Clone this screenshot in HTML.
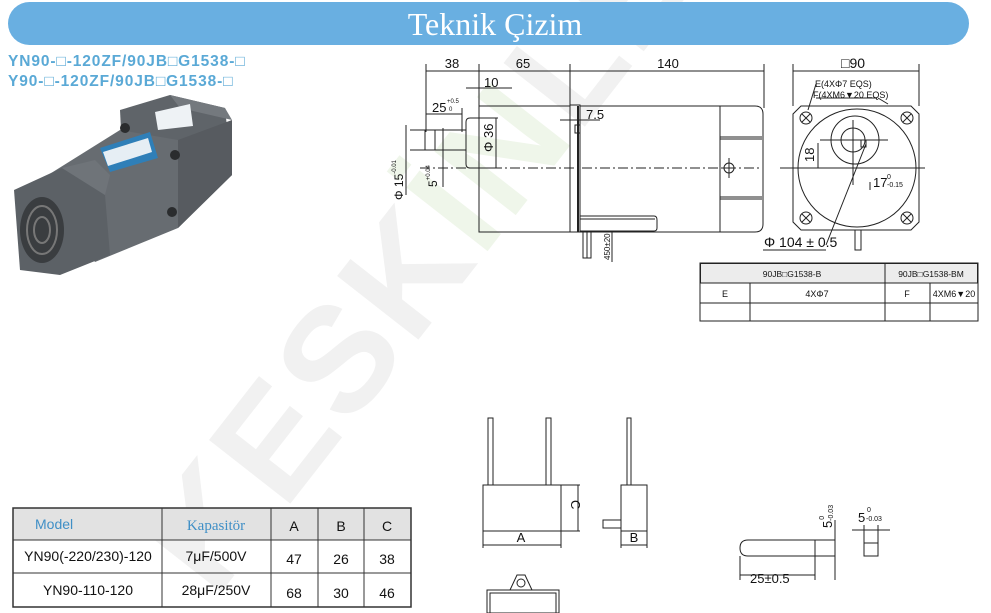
<!DOCTYPE html>
<html><head><meta charset="utf-8"><style>
html,body{margin:0;padding:0;background:#fff;width:991px;height:613px;overflow:hidden}
svg{display:block;font-family:"Liberation Sans",Arial,sans-serif}
</style></head><body>
<svg width="991" height="613" viewBox="0 0 991 613" xmlns="http://www.w3.org/2000/svg">
<!-- watermark -->
<text x="0" y="0" transform="translate(215,600) rotate(-52)" font-size="150" font-weight="bold" fill="#f1f1f1" letter-spacing="4">KESK<tspan fill="#eff6ea">İN</tspan>LER</text>

<!-- header -->
<rect x="8" y="2" width="961" height="43" rx="21.5" fill="#69afe1"/>
<text x="495" y="35" text-anchor="middle" font-family="Liberation Serif,serif" font-size="32" fill="#fff">Teknik Çizim</text>
<text x="8" y="66" font-size="15.5" font-weight="bold" fill="#5aa9d6" letter-spacing="0.9">YN90-□-120ZF/90JB□G1538-□</text>
<text x="8" y="86" font-size="15.5" font-weight="bold" fill="#5aa9d6" letter-spacing="0.9">Y90-□-120ZF/90JB□G1538-□</text>

<!-- motor photo -->
<g>
<polygon points="120,110 170,95 225,108 232,175 178,228 125,210" fill="#5f6469"/>
<polygon points="170,95 225,108 232,120 180,108" fill="#74797e"/>
<polygon points="178,140 232,120 232,175 178,228" fill="#575b60"/>
<polygon points="40,180 120,130 178,140 178,228 95,262" fill="#676c71"/>
<polygon points="14,190 62,168 105,195 110,255 60,275 20,270" fill="#5c6166"/>
<polygon points="62,168 95,160 110,175 105,195" fill="#6f7479"/>
<ellipse cx="42" cy="230" rx="22" ry="33" fill="#3a3d40"/>
<ellipse cx="42" cy="230" rx="15" ry="24" fill="none" stroke="#777" stroke-width="2"/>
<ellipse cx="42" cy="230" rx="8" ry="13" fill="none" stroke="#777" stroke-width="2"/>
<polygon points="100,148 150,132 158,158 110,172" fill="#2f7fb8"/>
<polygon points="103,152 148,138 152,152 108,166" fill="#e6eef4"/>
<polygon points="155,112 190,104 193,126 158,130" fill="#eef2f5"/>
<circle cx="125" cy="128" r="5" fill="#2a2c2e"/><circle cx="175" cy="155" r="5" fill="#2a2c2e"/><circle cx="172" cy="212" r="5" fill="#2a2c2e"/>
</g>

<g stroke="#222" stroke-width="1" fill="none">
<line x1="426" y1="71" x2="764" y2="71"/>
<line x1="426" y1="64" x2="426" y2="132"/><line x1="479" y1="64" x2="479" y2="106"/><line x1="570" y1="64" x2="570" y2="106"/><line x1="764" y1="64" x2="764" y2="108"/>
<line x1="466" y1="88" x2="512" y2="88"/>
<line x1="426" y1="114" x2="462" y2="114"/><line x1="462" y1="108" x2="462" y2="132"/>
<line x1="560" y1="120" x2="600" y2="120"/>
<rect x="425" y="130" width="41" height="20"/>
<line x1="435" y1="130" x2="435" y2="150"/>
<line x1="410" y1="130" x2="425" y2="130"/><line x1="410" y1="150" x2="425" y2="150"/><line x1="406" y1="125" x2="406" y2="195"/>
<line x1="443" y1="128" x2="443" y2="187"/>
<path d="M479,118 H470 Q466,118 466,122 V164 Q466,168 470,168 H479"/>
<line x1="479" y1="118" x2="498" y2="118"/><line x1="479" y1="168" x2="498" y2="168"/><line x1="496" y1="118" x2="496" y2="168"/>
<rect x="479" y="106" width="91" height="126"/>
<rect x="570" y="105" width="10" height="127"/>
<line x1="578" y1="106" x2="578" y2="232" stroke-width="2"/>
<rect x="575" y="125" width="5" height="8"/>
<path d="M580,106 H755 Q763,106 763,114 V224 Q763,232 755,232 H580"/>
<line x1="720" y1="106" x2="720" y2="232"/>
<line x1="720" y1="137" x2="762" y2="137"/><line x1="720" y1="139" x2="762" y2="139"/>
<line x1="720" y1="197" x2="762" y2="197"/><line x1="720" y1="199" x2="762" y2="199"/>
<path d="M580,216 H654 Q657,216 657,220 V228 Q657,231 654,231 H580"/>
<line x1="580" y1="219" x2="655" y2="219"/>
<line x1="420" y1="168" x2="760" y2="168" stroke-dasharray="10,3,2,3"/>
<circle cx="729" cy="168" r="5"/><line x1="729" y1="158" x2="729" y2="178"/><line x1="722" y1="168" x2="736" y2="168"/>
<rect x="583" y="232" width="8" height="26"/><line x1="587" y1="232" x2="587" y2="258"/>
<line x1="595" y1="231" x2="614" y2="231"/><line x1="612" y1="231" x2="612" y2="262"/>

<line x1="793" y1="71" x2="919" y2="71"/><line x1="793" y1="64" x2="793" y2="106"/><line x1="919" y1="64" x2="919" y2="106"/>
<path d="M801,106 H911 L919,114 V222 L911,230 H801 L793,222 V114 Z"/>
<circle cx="857" cy="168" r="59"/>
<circle cx="855" cy="140" r="24"/>
<circle cx="853" cy="140" r="12"/>
<line x1="780" y1="168" x2="925" y2="168"/>
<line x1="853" y1="120" x2="853" y2="185"/>
<line x1="820" y1="140" x2="888" y2="140"/>
<line x1="818" y1="143" x2="818" y2="168"/>
<line x1="870" y1="182" x2="870" y2="190"/>
<rect x="861" y="140" width="5" height="7"/>
<g>
<circle cx="806" cy="118" r="6"/><line x1="802" y1="114" x2="810" y2="122"/><line x1="810" y1="114" x2="802" y2="122"/>
<circle cx="907" cy="118" r="6"/><line x1="903" y1="114" x2="911" y2="122"/><line x1="911" y1="114" x2="903" y2="122"/>
<circle cx="806" cy="218" r="6"/><line x1="802" y1="214" x2="810" y2="222"/><line x1="810" y1="214" x2="802" y2="222"/>
<circle cx="907" cy="218" r="6"/><line x1="903" y1="214" x2="911" y2="222"/><line x1="911" y1="214" x2="903" y2="222"/>
</g>
<line x1="808" y1="110" x2="816" y2="84"/><line x1="816" y1="98" x2="877" y2="98"/>
<line x1="878" y1="98" x2="888" y2="104"/>
<line x1="826" y1="245" x2="866" y2="144"/>
<line x1="763" y1="250" x2="826" y2="250"/>
<rect x="855" y="230" width="6" height="20"/>
<rect x="700" y="263" width="278" height="58"/>
<line x1="700" y1="283" x2="978" y2="283"/><line x1="700" y1="303" x2="978" y2="303"/>
<line x1="885" y1="263" x2="885" y2="321"/><line x1="750" y1="283" x2="750" y2="321"/><line x1="930" y1="283" x2="930" y2="321"/>
</g>
<rect x="700.5" y="263.5" width="277" height="19.5" fill="#ececec" stroke="#222"/>
<line x1="885" y1="263" x2="885" y2="283" stroke="#222"/>

<g fill="#111">
<text x="452" y="68" font-size="13" text-anchor="middle">38</text>
<text x="523" y="68" font-size="13" text-anchor="middle">65</text>
<text x="668" y="68" font-size="13" text-anchor="middle">140</text>
<text x="484" y="87" font-size="13">10</text>
<text x="432" y="112" font-size="13">25</text><text x="447" y="103" font-size="6">+0.5</text><text x="449" y="111" font-size="6">0</text>
<text x="586" y="119" font-size="13">7.5</text>
<text transform="translate(493,152) rotate(-90)" font-size="13">Φ 36</text>
<text transform="translate(403,200) rotate(-90)" font-size="12">Φ 15<tspan font-size="6" dy="-7">-0.01</tspan></text>
<text transform="translate(437,187) rotate(-90)" font-size="12">5<tspan font-size="6" dy="-7">+0.04</tspan></text>
<text transform="translate(610,260) rotate(-90)" font-size="8">450±20</text>
<text x="841" y="68" font-size="14">□90</text>
<text x="815" y="87" font-size="9">E(4XΦ7  EQS)</text>
<text x="813" y="98" font-size="9">F(4XM6▼20 EQS)</text>
<text transform="translate(814,162) rotate(-90)" font-size="13">18</text>
<text x="873" y="187" font-size="13">17</text><text x="887" y="179" font-size="7">0</text><text x="887" y="187" font-size="7">-0.15</text>
<text x="764" y="247" font-size="14">Φ 104 ± 0.5</text>
<text x="792" y="277" font-size="8.5" text-anchor="middle">90JB□G1538-B</text>
<text x="931" y="277" font-size="8.5" text-anchor="middle">90JB□G1538-BM</text>
<text x="725" y="297" font-size="9" text-anchor="middle">E</text>
<text x="817" y="297" font-size="9" text-anchor="middle">4XΦ7</text>
<text x="907" y="297" font-size="9" text-anchor="middle">F</text>
<text x="954" y="297" font-size="9" text-anchor="middle">4XM6▼20</text>
</g>

<rect x="13" y="508" width="398" height="32" fill="#e2e2e2"/>
<g stroke="#333" fill="none">
<rect x="13" y="508" width="398" height="99" stroke-width="1.5"/>
<line x1="13" y1="540" x2="411" y2="540"/><line x1="13" y1="573" x2="411" y2="573"/>
<line x1="162" y1="508" x2="162" y2="607"/><line x1="271" y1="508" x2="271" y2="607"/><line x1="318" y1="508" x2="318" y2="607"/><line x1="364" y1="508" x2="364" y2="607"/>
</g>
<text x="35" y="529" font-size="14" fill="#3f8fc6">Model</text>
<text x="216" y="530" font-size="15" font-family="Liberation Serif,serif" fill="#3f8fc6" text-anchor="middle">Kapasitör</text>
<g font-size="14" fill="#111" text-anchor="middle">
<text x="294" y="531">A</text><text x="341" y="531">B</text><text x="387" y="531">C</text>
<text x="88" y="561">YN90(-220/230)-120</text><text x="216" y="561">7μF/500V</text>
<text x="294" y="564">47</text><text x="341" y="564">26</text><text x="387" y="564">38</text>
<text x="88" y="595">YN90-110-120</text><text x="216" y="595">28μF/250V</text>
<text x="294" y="598">68</text><text x="341" y="598">30</text><text x="387" y="598">46</text>
</g>

<g stroke="#222" fill="none">
<rect x="488" y="418" width="5" height="67"/><rect x="546" y="418" width="5" height="67"/>
<rect x="483" y="485" width="78" height="46"/>
<line x1="561" y1="485" x2="580" y2="485"/><line x1="561" y1="531" x2="580" y2="531"/><line x1="578" y1="485" x2="578" y2="531"/>
<line x1="483" y1="531" x2="483" y2="548"/><line x1="561" y1="531" x2="561" y2="548"/><line x1="483" y1="545" x2="561" y2="545"/>
<rect x="627" y="418" width="4" height="67"/>
<rect x="621" y="485" width="26" height="46"/>
<rect x="603" y="520" width="18" height="8"/>
<line x1="621" y1="531" x2="621" y2="548"/><line x1="647" y1="531" x2="647" y2="548"/><line x1="621" y1="545" x2="647" y2="545"/>
<rect x="487" y="590" width="72" height="23"/><rect x="490" y="593" width="66" height="20"/>
<path d="M510,590 L517,575 L525,575 L532,590"/><circle cx="521" cy="583" r="4"/>
<path d="M835,540 H748 Q740,540 740,548 Q740,556 748,556 H835"/>
<line x1="815" y1="540" x2="815" y2="580"/><line x1="835" y1="520" x2="835" y2="580"/>
<line x1="740" y1="556" x2="740" y2="580"/><line x1="740" y1="575" x2="815" y2="575"/>
<rect x="864" y="530" width="14" height="26"/><line x1="864" y1="543" x2="878" y2="543"/>
<line x1="852" y1="530" x2="890" y2="530"/><line x1="864" y1="525" x2="864" y2="530"/><line x1="878" y1="525" x2="878" y2="530"/>
</g>
<g fill="#111" font-size="13">
<text x="521" y="542" text-anchor="middle">A</text>
<text x="634" y="542" text-anchor="middle">B</text>
<text transform="translate(571,500) rotate(90)">C</text>
<text x="750" y="583" font-size="13">25±0.5</text>
<text transform="translate(832,528) rotate(-90)">5<tspan font-size="7" dx="1" dy="-8">0</tspan><tspan font-size="7" dx="-5" dy="9">-0.03</tspan></text>
<text x="858" y="522">5</text><text x="867" y="512" font-size="7">0</text><text x="866" y="521" font-size="7">-0.03</text>
</g>
</svg>
</body></html>
